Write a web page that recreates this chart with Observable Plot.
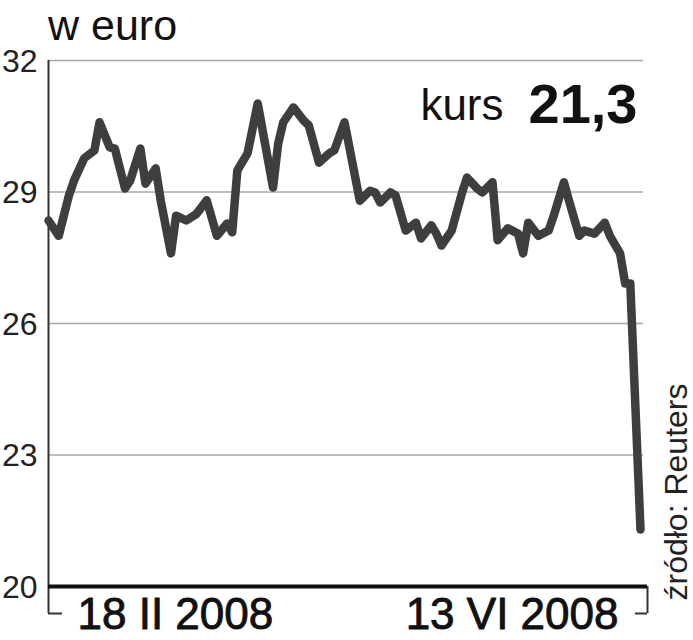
<!DOCTYPE html>
<html>
<head>
<meta charset="utf-8">
<script src="https://cdn.jsdelivr.net/npm/d3@7"></script>
<script src="https://cdn.jsdelivr.net/npm/@observablehq/plot@0.6"></script>
<style>
  body { margin: 0; background: #fff; width: 693px; height: 640px; overflow: hidden;
         font-family: "Liberation Sans", Arial, sans-serif; }
  #title { height: 30px; line-height: 50px; font-size: 43px; padding-left: 48px; color: #111; white-space: nowrap; overflow: visible; }
  svg { display: block; }
</style>
</head>
<body>
<div id="title"></div>
<div id="chart"></div>
<script>
const titleText = "w euro";
const kursLabel = "kurs";
const kursValue = "21,3";
const sourceText = "źródło: Reuters";

const dates = [
  "2008-02-18","2008-02-20","2008-02-22","2008-02-23","2008-02-25","2008-02-27","2008-02-28",
  "2008-03-01","2008-03-02","2008-03-04","2008-03-05","2008-03-07","2008-03-08","2008-03-10",
  "2008-03-11","2008-03-13","2008-03-14","2008-03-16","2008-03-18","2008-03-20","2008-03-22",
  "2008-03-24","2008-03-25","2008-03-26","2008-03-28","2008-03-30",
  "2008-04-02","2008-04-03","2008-04-04","2008-04-06","2008-04-08","2008-04-09","2008-04-11",
  "2008-04-13","2008-04-14","2008-04-16","2008-04-19","2008-04-21","2008-04-22","2008-04-23",
  "2008-04-25","2008-04-26","2008-04-28","2008-04-30",
  "2008-05-01","2008-05-03","2008-05-04","2008-05-05","2008-05-07","2008-05-09","2008-05-10",
  "2008-05-12","2008-05-13","2008-05-15","2008-05-16","2008-05-18","2008-05-20","2008-05-21",
  "2008-05-22","2008-05-24","2008-05-26","2008-05-27","2008-05-29","2008-05-30",
  "2008-06-01","2008-06-02","2008-06-04","2008-06-06","2008-06-07","2008-06-09","2008-06-10",
  "2008-06-11","2008-06-13"
];
const values = [
  28.35, 28.0, 28.92, 29.26, 29.77, 29.95, 30.59,
  30.02, 29.99, 29.08, 29.26, 29.99, 29.19, 29.54,
  28.8, 27.6, 28.46, 28.35, 28.5, 28.81, 28.0,
  28.28, 28.08, 29.49, 29.88, 31.02,
  29.1, 30.1, 30.59, 30.93, 30.63, 30.52, 29.67,
  29.88, 29.95, 30.59, 28.8, 29.03, 28.99, 28.76,
  28.99, 28.92, 28.12, 28.3,
  27.94, 28.24, 28.05, 27.78, 28.12, 28.97, 29.33,
  29.08, 28.99, 29.22, 27.9, 28.17, 28.05, 27.6,
  28.3, 28.0, 28.12, 28.46, 29.22, 28.8,
  28.0, 28.12, 28.05, 28.3, 28.0, 27.6, 26.91,
  26.91, 21.3
];
const yTicks = [20, 23, 26, 29, 32];
const gridValues = [23, 26, 29, 32];
const xLabels = ["18 II 2008", "13 VI 2008"];

document.getElementById("title").textContent = titleText;

const data = dates.map((d, i) => ({date: new Date(d), value: values[i]}));
const first = data[0].date;
const last = data[data.length - 1].date;
const font = '"Liberation Sans", Arial, sans-serif';

const chart = Plot.plot({
  width: 693,
  height: 610,
  marginTop: 30,
  marginBottom: 54,
  marginLeft: 48,
  marginRight: 53,
  style: {fontFamily: font, background: "none", color: "#111"},
  x: {type: "utc", domain: [first, last], axis: null},
  y: {domain: [20, 32], axis: null},
  marks: [
    Plot.ruleY(gridValues, {stroke: "#a8a8a8", strokeWidth: 1.5, insetRight: -3}),
    // y tick labels
    Plot.text(yTicks, {y: d => d, text: d => String(d), frameAnchor: "left", textAnchor: "end",
      lineAnchor: "middle", dx: -11, dy: 1, fontSize: 32, fill: "#222"}),
    // left axis line with bracket down
    Plot.ruleX([first], {y1: 32, y2: 20, stroke: "#333", strokeWidth: 2, insetBottom: -27}),
    Plot.ruleY([20], {x1: first, x2: first, dy: 27, insetRight: -14, stroke: "#333", strokeWidth: 2}),
    // right bracket
    Plot.ruleX([last], {y1: 20, y2: 20, dx: 7, insetBottom: -27, stroke: "#333", strokeWidth: 2}),
    Plot.ruleY([20], {x1: last, x2: last, dx: 7, dy: 27, insetLeft: -12, stroke: "#333", strokeWidth: 2}),
    // data line
    Plot.line(data, {x: "date", y: "value", stroke: "#3e3e3e", strokeWidth: 8.5,
      strokeLinejoin: "round", strokeLinecap: "round"}),
    // baseline
    Plot.ruleY([20], {stroke: "#111", strokeWidth: 4, insetRight: -7}),
    // x labels
    Plot.text([{date: first, label: xLabels[0]}], {x: "date", text: "label", frameAnchor: "bottom",
      textAnchor: "start", lineAnchor: "bottom", dx: 29, dy: 42, fontSize: 44, fill: "#111",
      stroke: "#111", strokeWidth: 0.9}),
    Plot.text([{date: last, label: xLabels[1]}], {x: "date", text: "label", frameAnchor: "bottom",
      textAnchor: "end", lineAnchor: "bottom", dx: -22, dy: 42, fontSize: 44, fill: "#111",
      stroke: "#111", strokeWidth: 0.9}),
    // kurs annotation
    Plot.text([kursLabel], {text: d => d, frameAnchor: "top-right", textAnchor: "end", lineAnchor: "bottom",
      dx: -137, dy: 59, fontSize: 44, fill: "#111"}),
    Plot.text([kursValue], {text: d => d, frameAnchor: "top-right", textAnchor: "end", lineAnchor: "bottom",
      dx: -3, dy: 62, fontSize: 56, fontWeight: "bold", fill: "#111"}),
    // source
    Plot.text([sourceText], {text: d => d, frameAnchor: "bottom-right", rotate: -90, textAnchor: "start",
      lineAnchor: "bottom", dx: 46, dy: 14, fontSize: 32, fill: "#222"})
  ]
});
document.getElementById("chart").appendChild(chart);
</script>
</body>
</html>
